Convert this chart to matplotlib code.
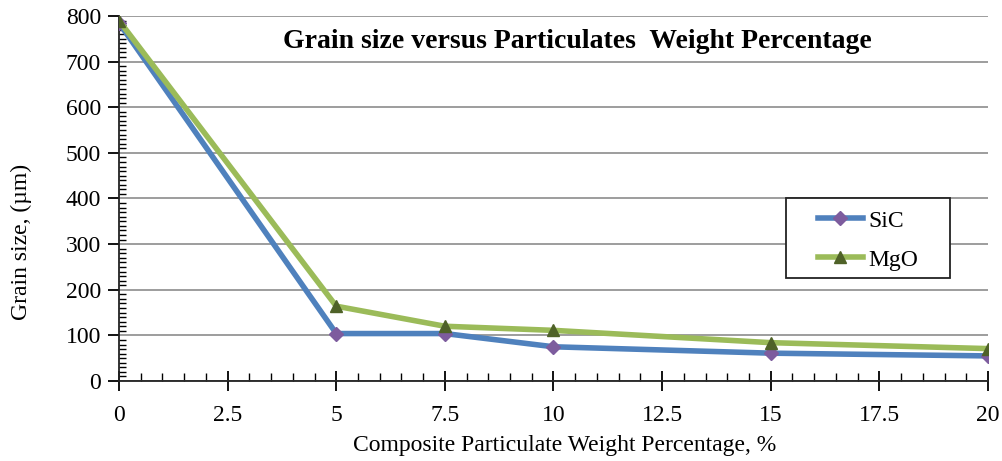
import numpy as np
import matplotlib.pyplot as plt
from matplotlib.ticker import MultipleLocator
from matplotlib.patches import Rectangle

plt.rcParams["font.family"] = ["Liberation Serif", "DejaVu Serif"]

# Data
wt_pct = [0, 5, 7.5, 10, 15, 20]
sic = [785, 104, 104, 75, 61, 55]
mgo = [790, 164, 120, 111, 84, 71]

x_ticks = [0, 2.5, 5, 7.5, 10, 12.5, 15, 17.5, 20]
x_ticklabels = ["0", "2.5", "5", "7.5", "10", "12.5", "15", "17.5", "20"]

W, H = 1003, 461
fig = plt.figure(figsize=(W / 100, H / 100), dpi=100)
ax = fig.add_axes([119 / W, 80 / H, 869 / W, 365 / H])

ax.plot(wt_pct, sic, color="#4F81BD", lw=4, marker="D", ms=7,
        mfc="#7D5C9E", mec="#7D5C9E", label="SiC", zorder=3)
ax.plot(wt_pct, mgo, color="#9BBB59", lw=4, marker="^", ms=9,
        mfc="#4F6228", mec="#4F6228", label="MgO", zorder=3)

ax.set_xlim(0, 20)
ax.set_ylim(0, 800)
ax.set_xticks(x_ticks)
ax.set_xticklabels(x_ticklabels)
ax.yaxis.set_major_locator(MultipleLocator(100))
ax.yaxis.set_minor_locator(MultipleLocator(10))
ax.xaxis.set_minor_locator(MultipleLocator(0.5))

ax.grid(axis="y", color="#8c8c8c", lw=1.2)
ax.set_axisbelow(True)
for s in ["top", "right"]:
    ax.spines[s].set_visible(False)
for s in ["left", "bottom"]:
    ax.spines[s].set_color("#222222")
    ax.spines[s].set_linewidth(1.3)

ax.tick_params(axis="y", which="major", direction="out", length=8, width=1.3, labelsize=17, pad=5)
ax.tick_params(axis="y", which="minor", direction="in", length=5, width=1)
ax.tick_params(axis="x", which="major", direction="inout", length=14, width=1.3, labelsize=17, pad=10)
ax.tick_params(axis="x", which="minor", direction="in", length=6, width=1)

ax.set_xlabel("Composite Particulate Weight Percentage, %", fontsize=17)
ax.set_ylabel("Grain size, (\u00b5m)", fontsize=17)
ax.xaxis.set_label_coords(0.513, -0.148)
ax.yaxis.set_label_coords(-0.100, 0.38)

ax.text(0.528, 0.93, "Grain size versus Particulates  Weight Percentage",
        transform=ax.transAxes, ha="center", va="center", fontsize=20, fontweight="bold")

# legend box drawn separately, entries on top without frame
ax.add_patch(Rectangle((786 / W, 1 - 278 / H), 164 / W, 80 / H, transform=fig.transFigure,
                       facecolor="white", edgecolor="#222222", lw=1.3, zorder=4, clip_on=False))
leg = ax.legend(loc="upper left", bbox_to_anchor=(818 / W, 1 - 210 / H),
                bbox_transform=fig.transFigure, fontsize=17, frameon=False,
                borderpad=0, labelspacing=0.75, handlelength=1.9, handletextpad=0.25,
                borderaxespad=0)
leg.set_zorder(5)

plt.savefig("out.png", dpi=100)
